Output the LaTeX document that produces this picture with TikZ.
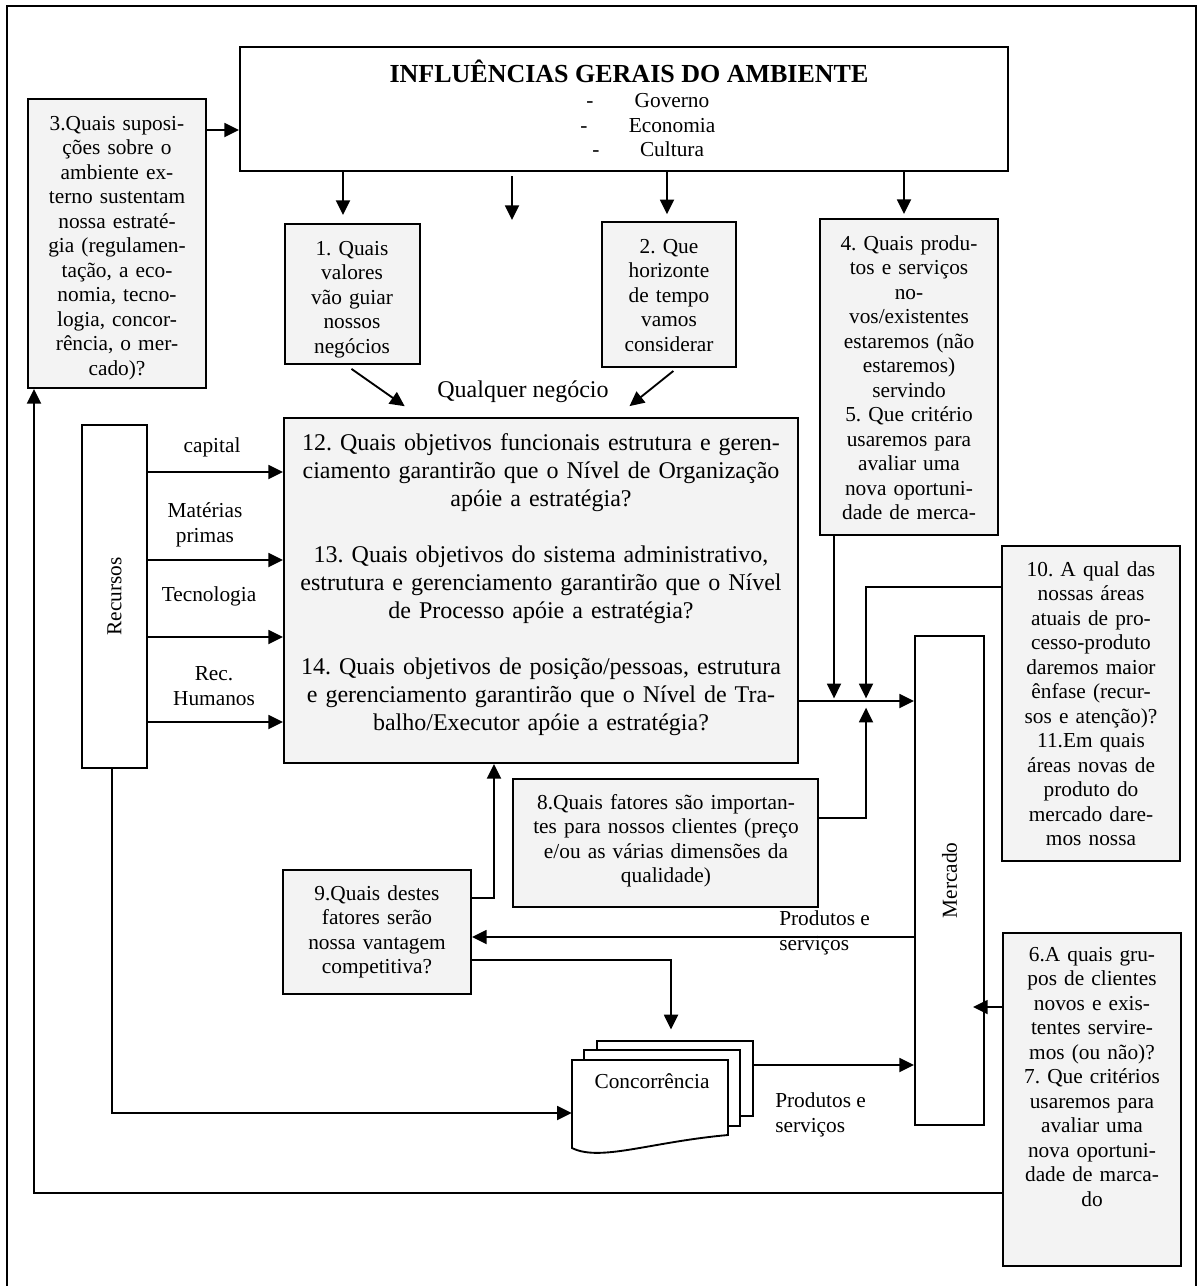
\documentclass[tikz,border=0pt]{standalone}
\usepackage{fontspec}
\setmainfont{Liberation Serif}
\usetikzlibrary{arrows.meta,fit,calc}
\definecolor{boxgray}{HTML}{F3F3F3}
\frenchspacing
\begin{document}
\begin{tikzpicture}[x=0.75pt,y=-0.75pt,
  conn/.style={line width=1.4pt},
  arr/.style={line width=1.4pt,-{Triangle[length=11pt,width=10.5pt]}},
  qbox/.style={draw,line width=1.6pt,fill=boxgray,inner sep=0pt},
  wbox/.style={draw,line width=1.6pt,fill=white,inner sep=0pt},
  smalltxt/.style={font=\fontsize{16pt}{18.4pt}\selectfont},
  largetxt/.style={font=\fontsize{18pt}{21pt}\selectfont},
  para/.style={align=center,anchor=base,inner sep=0pt},
  lbl/.style={smalltxt,align=center,anchor=base,inner sep=0pt},
]
\useasboundingbox (0,0) rectangle (1198,1286);

% outer frame (open at the bottom)
\draw[conn] (7,1286) -- (7,6) -- (1196,6) -- (1196,1286);

% environment box
\node[wbox, fit={(240,47) (1008,171)}] (env) {};
\node[para, font=\fontsize{19.5pt}{23pt}\selectfont\bfseries] (envtitle) at (629,82) {INFLUÊNCIAS GERAIS DO AMBIENTE};
\node[lbl] (d1) at (590,107) {-};
\node[lbl] (d2) at (584,132) {-};
\node[lbl] (d3) at (596,156) {-};
\node[lbl] (g1) at (672,107) {Governo};
\node[lbl] (g2) at (672,132) {Economia};
\node[lbl] (g3) at (672,156) {Cultura};

% question boxes
\node[qbox, fit={(28,99) (206,388)}] (q3) {};
\node[para, smalltxt, text width=133pt] (t3) at (117,130) {3.Quais suposi-\\ções sobre o\\ambiente ex-\\terno sustentam\\nossa estraté-\\gia (regulamen-\\tação, a eco-\\nomia, tecno-\\logia, concor-\\rência, o mer-\\cado)?};

\node[qbox, fit={(285,224) (420,364)}] (q1) {};
\node[para, smalltxt, text width=100pt] (t1) at (352,255) {1. Quais\\valores\\vão guiar\\nossos\\negócios};

\node[qbox, fit={(602,222) (736,367)}] (q2) {};
\node[para, smalltxt, text width=100pt] (t2) at (669,253) {2. Que\\horizonte\\de tempo\\vamos\\considerar};

\node[qbox, fit={(820,219) (998,535)}] (q4) {};
\node[para, smalltxt, text width=133pt] (t4) at (909,250) {4. Quais produ-\\tos e serviços\\no-\\vos/existentes\\estaremos (não\\estaremos)\\servindo\\5. Que critério\\usaremos para\\avaliar uma\\nova oportuni-\\dade de merca-};

\node[para, largetxt] (qn) at (523,397) {Qualquer negócio};

\node[qbox, fit={(284,418) (798,763)}] (cen) {};
\node[para, largetxt, text width=385pt] (tc) at (541,450) {12. Quais objetivos funcionais estrutura e geren-\\ciamento garantirão que o Nível de Organização\\apóie a estratégia?\\[21pt]13. Quais objetivos do sistema administrativo,\\estrutura e gerenciamento garantirão que o Nível\\de Processo apóie a estratégia?\\[21pt]14. Quais objetivos de posição/pessoas, estrutura\\e gerenciamento garantirão que o Nível de Tra-\\balho/Executor apóie a estratégia?};

\node[qbox, fit={(1002,546) (1180,861)}] (q10) {};
\node[para, smalltxt, text width=133pt] (t10) at (1091,576) {10. A qual das\\nossas áreas\\atuais de pro-\\cesso-produto\\daremos maior\\ênfase (recur-\\sos e atenção)?\\11.Em quais\\áreas novas de\\produto do\\mercado dare-\\mos nossa};

\node[qbox, fit={(513,779) (818,907)}] (q8) {};
\node[para, smalltxt, text width=229pt] (t8) at (666,809) {8.Quais fatores são importan-\\tes para nossos clientes (preço\\e/ou as várias dimensões da\\qualidade)};

\node[qbox, fit={(283,870) (471,994)}] (q9) {};
\node[para, smalltxt, text width=141pt] (t9) at (377,900) {9.Quais destes\\fatores serão\\nossa vantagem\\competitiva?};

\node[qbox, fit={(1003,933) (1181,1266)}] (q6) {};
\node[para, smalltxt, text width=133pt] (t6) at (1092,961) {6.A quais gru-\\pos de clientes\\novos e exis-\\tentes servire-\\mos (ou não)?\\7. Que critérios\\usaremos para\\avaliar uma\\nova oportuni-\\dade de marca-\\do};

% resources and market
\node[wbox, fit={(82,425) (147,768)}] (rec) {};
\node[smalltxt, rotate=90, inner sep=0pt] (rectxt) at (rec.center) {Recursos};
\node[wbox, fit={(915,636) (984,1125)}] (merc) {};
\node[smalltxt, rotate=90, inner sep=0pt] (merctxt) at (merc.center) {Mercado};

% competition (stacked documents)
\node[wbox, line width=1.4pt, fit={(597,1041) (753,1116)}] (conc3) {};
\node[wbox, line width=1.4pt, fit={(584,1050) (740,1126)}] (conc2) {};
\draw[conn, fill=white] (572,1060) -- (728,1060) -- (728,1135)
  .. controls (650,1142) and (600,1162) .. (572,1148) -- cycle;
\node[inner sep=0pt, fit={(572,1060) (728,1148)}] (conc) {};
\node[lbl] (conctxt) at (652,1088) {Concorrência};

% labels (two-line labels sit on the baseline of their last line)
\node[lbl] (lcap) at (212,452) {capital};
\node[lbl] (lmat) at (205,542) {Matérias\\primas};
\node[lbl] (ltec) at (209,601) {Tecnologia};
\node[lbl] (lhum) at (214,705) {Rec.\\Humanos};
\node[smalltxt, align=left, anchor=base west, inner sep=0pt] (lps1) at (779,950) {Produtos e\\serviços};
\node[smalltxt, align=left, anchor=base west, inner sep=0pt] (lps2) at (775,1132) {Produtos e\\serviços};

% junctions on the line into the market
\coordinate (j1) at (834,701);
\coordinate (j2) at (866,701);
\coordinate (m1) at (512,176);
\coordinate (m2) at (512,220);

% connectors from the environment
\draw[arr] (q3.east |- 0,130) -- (env.west |- 0,130);
\draw[arr, shorten >=6pt] (env.south -| 343,0) -- (q1.north -| 343,0);
\draw[arr] (m1) -- (m2);
\draw[arr, shorten >=5pt] (env.south -| 667,0) -- (q2.north -| 667,0);
\draw[arr, shorten >=3pt] (env.south -| 904,0) -- (q4.north -| 904,0);

% into the central box
\draw[arr, shorten <=5pt, shorten >=14pt] (q1.south -| 346,0) -- (cen.north -| 420,0);
\draw[arr, shorten <=3.5pt, shorten >=13pt] (q2.south -| 677,0) -- (cen.north -| 616,0);
\draw[arr] (rec.east |- 0,472) -- (cen.west |- 0,472);
\draw[arr] (rec.east |- 0,560) -- (cen.west |- 0,560);
\draw[arr] (rec.east |- 0,637) -- (cen.west |- 0,637);
\draw[arr] (rec.east |- 0,722) -- (cen.west |- 0,722);
\draw[arr] (q9.east |- 0,898) -| (cen.south -| 494,0);

% into the market
\draw[arr] (cen.east |- 0,701) -- (merc.west |- 0,701);
\draw[arr, shorten >=2pt] (q4.south -| 834,0) -- (j1);
\draw[arr, shorten >=2pt] (q10.west |- 0,587) -| (j2);
\draw[arr, shorten >=5pt] (q8.east |- 0,818) -| (j2);
\draw[arr] (conc3.east |- 0,1065) -- (merc.west |- 0,1065);
\draw[arr, shorten >=-9pt] (q6.west |- 0,1007) -- (merc.east |- 0,1007);

% out of the market and competition
\draw[arr] (merc.west |- 0,937) -- (q9.east |- 0,937);
\draw[arr, shorten >=8pt] (q9.east |- 0,960) -| (conc3.north -| 671,0);
\draw[arr] (rec.south -| 112,0) |- (conc.west |- 0,1113);

% feedback loop to the assumptions
\draw[arr] (q6.west |- 0,1193) -| (q3.south -| 34,0);

\end{tikzpicture}
\end{document}
